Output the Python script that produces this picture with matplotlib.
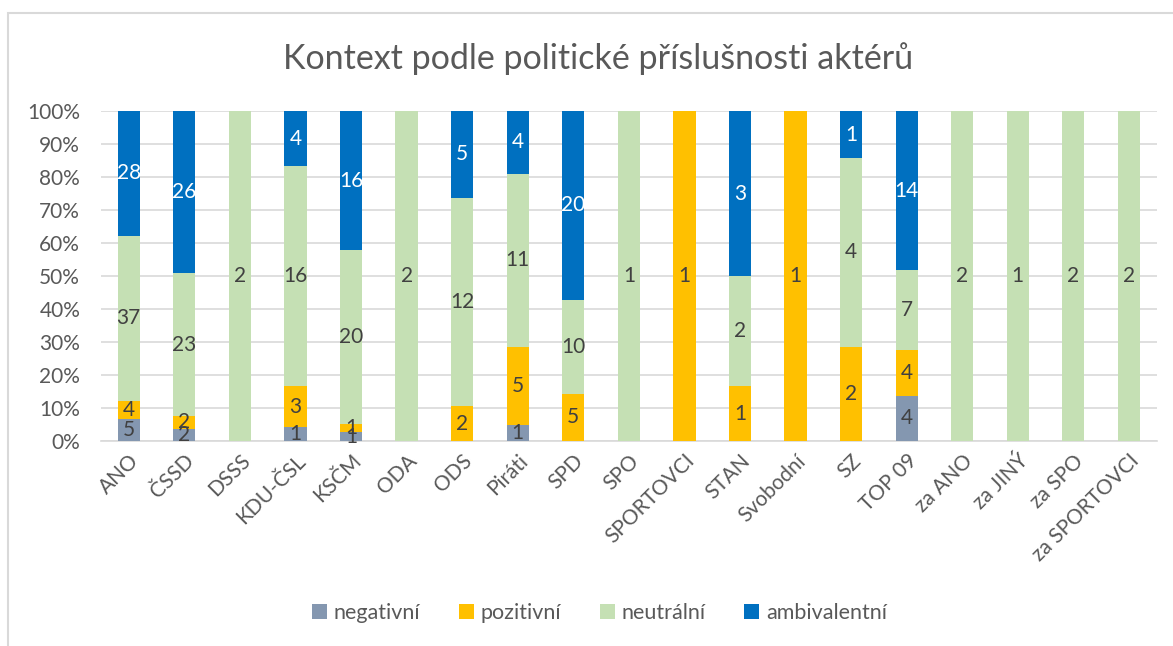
import matplotlib
matplotlib.use("Agg")
import matplotlib.pyplot as plt
from matplotlib.patches import Patch, Rectangle
from matplotlib.ticker import PercentFormatter
import numpy as np

plt.rcParams['font.family'] = ['Lato', 'DejaVu Sans']

categories = ["ANO", "ČSSD", "DSSS", "KDU-ČSL", "KSČM", "ODA", "ODS", "Piráti", "SPD", "SPO",
              "SPORTOVCI", "STAN", "Svobodní", "SZ", "TOP 09", "za ANO", "za JINÝ", "za SPO",
              "za SPORTOVCI"]
negativni = [5, 2, 0, 1, 1, 0, 0, 1, 0, 0, 0, 0, 0, 0, 4, 0, 0, 0, 0]
pozitivni = [4, 2, 0, 3, 1, 0, 2, 5, 5, 0, 1, 1, 1, 2, 4, 0, 0, 0, 0]
neutralni = [37, 23, 2, 16, 20, 2, 12, 11, 10, 1, 0, 2, 0, 4, 7, 2, 1, 2, 2]
ambivalentni = [28, 26, 0, 4, 16, 0, 5, 4, 20, 0, 0, 3, 0, 1, 14, 0, 0, 0, 0]

series = [("negativní", negativni, "#8497B0", "#404040"),
          ("pozitivní", pozitivni, "#FFC000", "#404040"),
          ("neutrální", neutralni, "#C5E0B4", "#404040"),
          ("ambivalentní", ambivalentni, "#0070C0", "#FFFFFF")]

data = np.array([s[1] for s in series], dtype=float)
totals = data.sum(axis=0)
shares = data / totals * 100

fig = plt.figure(figsize=(11.73, 6.46), dpi=100)
ax = fig.add_axes([0.0861, 0.3173, 0.9, 0.5108])

x = np.arange(len(categories))
bottom = np.zeros(len(categories))
for i, (name, vals, color, tcolor) in enumerate(series):
    ax.bar(x, shares[i], 0.4, bottom=bottom, color=color, zorder=3, label=name)
    for j in range(len(categories)):
        if data[i, j] > 0:
            ax.text(x[j], bottom[j] + shares[i, j] / 2, f"{int(data[i, j])}",
                    ha='center', va='center', fontsize=15, color=tcolor, zorder=4)
    bottom += shares[i]

ax.set_xlim(-0.5, len(categories) - 0.5)
ax.set_ylim(0, 100)
ax.set_yticks(np.arange(0, 101, 10))
ax.yaxis.set_major_formatter(PercentFormatter(decimals=0))
ax.grid(axis='y', color='#D9D9D9', linewidth=1.2, zorder=0)
for sp in ['top', 'right', 'left']:
    ax.spines[sp].set_visible(False)
ax.spines['bottom'].set_color('#D9D9D9')
ax.spines['bottom'].set_linewidth(1.2)
ax.tick_params(axis='both', length=0, labelsize=15, colors='#595959')
ax.tick_params(axis='y', pad=15)
ax.set_xticks(x)
ax.set_xticklabels(categories, rotation=45, ha='right', rotation_mode='anchor')
ax.tick_params(axis='x', pad=7)

fig.text(0.51, 0.91, "Kontext podle politické příslušnosti aktérů", ha='center', va='center',
         fontsize=24.5, color='#595959')

handles = [Patch(facecolor=s[2], edgecolor='none', label=s[0]) for s in series]
fig.legend(handles=handles, loc='center', bbox_to_anchor=(0.511, 0.051), ncol=4, frameon=False,
           fontsize=15.5, labelcolor='#595959', handlelength=0.7, handleheight=0.7,
           handletextpad=0.3, columnspacing=1.8)

fig.patches.append(Rectangle((7.5 / 1173, -0.1), 1.2, (646 - 12.5) / 646 + 0.1,
                             transform=fig.transFigure, fill=False, edgecolor='#D9D9D9',
                             linewidth=1.5))

fig.savefig("out.png", dpi=100, facecolor='white')
